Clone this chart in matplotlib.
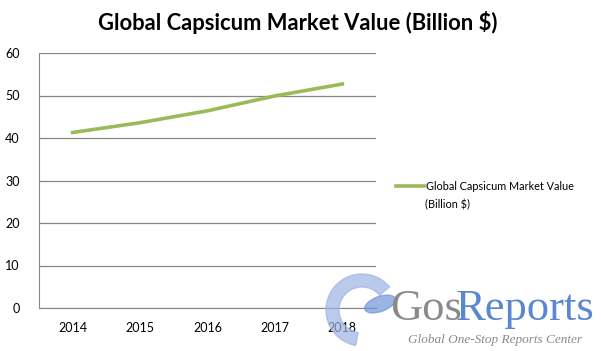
import matplotlib.pyplot as plt
from matplotlib.patches import Ellipse, Wedge

years = ['2014', '2015', '2016', '2017', '2018']
market_value = [41.3, 43.6, 46.4, 49.9, 52.7]
series_name = 'Global Capsicum Market Value'
series_unit = '(Billion $)'
title = 'Global Capsicum Market Value (Billion $)'

plt.rcParams['font.family'] = ['Lato', 'DejaVu Sans']

fig = plt.figure(figsize=(6.01, 3.51), dpi=100)
ax = fig.add_axes([39 / 601, 1 - 308 / 351, 337 / 601, 255 / 351])

x = range(len(years))
ax.plot(x, market_value, color='#9BBB59', linewidth=2.6, label=series_name)

ax.set_xlim(-0.5, len(years) - 0.5)
ax.set_ylim(0, 60)
ax.set_yticks(range(0, 61, 10))
ax.set_xticks(list(x))
ax.set_xticklabels(years)
ax.yaxis.grid(True, color='#868686', linewidth=0.9)
ax.set_axisbelow(True)
for side in ['top', 'right']:
    ax.spines[side].set_visible(False)
ax.spines['left'].set_color('#868686')
ax.spines['bottom'].set_color('#868686')
ax.tick_params(length=0, labelsize=9, colors='black', pad=10)
ax.tick_params(axis='y', pad=14)

fig.text(298 / 601, 1 - 22 / 351, title, ha='center', va='center',
         fontsize=15.8, fontweight='bold')

# legend: name on the handle row, unit wrapped onto the next line
ax.legend(loc='center left', bbox_to_anchor=(357 / 337, 1 - (186 - 53) / 255),
          frameon=False, fontsize=7.8, handlelength=2.6, handletextpad=0.2,
          borderpad=0, borderaxespad=0)
fig.text(425 / 601, 1 - 205 / 351, series_unit, fontsize=7.8, va='center', ha='left')

# watermark logo
wm = fig.add_axes([0, 0, 1, 1], facecolor='none')
wm.set_xlim(0, 601)
wm.set_ylim(351, 0)
wm.axis('off')
wm.add_patch(Wedge((362, 310), 36, 100, 320, width=13, color='#9db4e3', alpha=0.7))
wm.add_patch(Ellipse((380, 304), 32, 15, angle=-20, color='#6f95d8', alpha=0.7))
wm.text(390, 309, 'Gos', fontsize=32, color='#8a8a8a', family='Liberation Serif',
        va='center', ha='left')
wm.text(456, 309, 'Reports', fontsize=32, color='#5b86d1', family='Liberation Serif',
        va='center', ha='left')
wm.text(495, 340, 'Global One-Stop Reports Center', fontsize=9.5, color='#8a8a8a',
        style='italic', family='Liberation Serif', va='center', ha='center')

fig.savefig('out.png', dpi=100)
